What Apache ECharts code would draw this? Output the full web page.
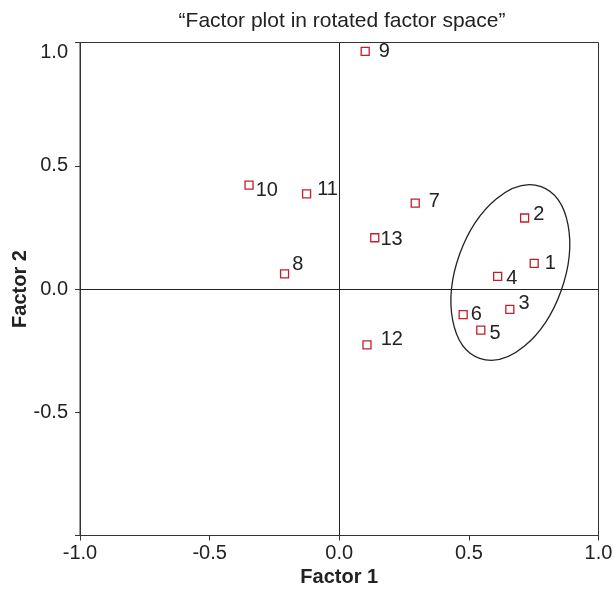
<!DOCTYPE html>
<html>
<head>
<meta charset="utf-8">
<script src="https://cdn.jsdelivr.net/npm/echarts@6/dist/echarts.min.js"></script>
<style>
html,body{margin:0;padding:0;background:#fff;}
#chart{width:613px;height:592px;}
</style>
</head>
<body>
<div id="chart"></div>
<script>
// ---- data ----
var pointNames = ['1','2','3','4','5','6','7','8','9','10','11','12','13'];
var factor1 = [0.752, 0.715, 0.658, 0.611, 0.546, 0.478, 0.293, -0.211, 0.100, -0.348, -0.126, 0.107, 0.137];
var factor2 = [0.104, 0.288, -0.083, 0.051, -0.167, -0.104, 0.348, 0.061, 0.964, 0.421, 0.386, -0.227, 0.208];
var xTicks = [-1.0, -0.5, 0.0, 0.5, 1.0];
var yTickLabels = [-0.5, 0.0, 0.5, 1.0];
// cluster ellipse: centre (data), semi-axes (data units), tilt in degrees (clockwise from vertical)
var ellipseCentre = [0.660, 0.067];
var ellipseSemiLong = 0.370;
var ellipseSemiShort = 0.208;
var ellipseTilt = 19.7;

// ---- style ----
var labelOffsets = [[6,0],[4,-4],[4,-6],[4,2],[4,3],[3,0],[9,-2],[3,-9],[9,0],[2,5],[6,-4],[9,-5],[1,2]];
var FONT = 'Liberation Sans, Arial, Helvetica, sans-serif';

var scatterData = pointNames.map(function(n, i){
  return {
    name: n,
    value: [factor1[i], factor2[i]],
    label: {offset: labelOffsets[i]}
  };
});

var chart = echarts.init(document.getElementById('chart'), null, {renderer:'canvas'});
chart.setOption({
  animation: false,
  backgroundColor: '#fff',
  title: {
    text: '\u201CFactor plot in rotated factor space\u201D',
    left: 337, top: 6, textAlign: 'center',
    textStyle: {fontFamily: FONT, fontSize: 21, fontWeight: 'normal', color: '#222'}
  },
  grid: {
    left: 80, right: 14.5, top: 42.5, bottom: 56.5,
    outerBoundsMode: 'none', containLabel: false,
    show: true, borderColor: '#333', borderWidth: 1, backgroundColor: 'transparent'
  },
  xAxis: {
    type: 'value', min: -1, max: 1, interval: 0.5,
    name: 'Factor 1', nameLocation: 'middle', nameGap: 32, nameMoveOverlap: false,
    nameTextStyle: {fontFamily: FONT, fontSize: 20, fontWeight: 'bold', color: '#222'},
    axisLine: {show: true, onZero: false, lineStyle: {color: '#333', width: 1}},
    axisTick: {show: true, length: 5, lineStyle: {color: '#333'}},
    splitLine: {show: false},
    axisLabel: {
      fontFamily: FONT, fontSize: 20, color: '#222', margin: 8,
      customValues: xTicks,
      formatter: function(v){ return v.toFixed(1); }
    }
  },
  yAxis: {
    type: 'value', min: -1, max: 1, interval: 0.5,
    name: 'Factor 2', nameLocation: 'middle', nameGap: 50, nameRotate: 90, nameMoveOverlap: false,
    nameTextStyle: {fontFamily: FONT, fontSize: 20, fontWeight: 'bold', color: '#222'},
    axisLine: {show: true, onZero: false, lineStyle: {color: '#333', width: 1}},
    axisTick: {show: true, length: 5, lineStyle: {color: '#333'}},
    splitLine: {show: false},
    axisLabel: {
      fontFamily: FONT, fontSize: 20, color: '#222', margin: 12,
      customValues: yTickLabels,
      verticalAlignMaxLabel: 'top',
      formatter: function(v){ return v.toFixed(1); }
    }
  },
  series: [
    {
      type: 'scatter',
      symbol: 'rect', symbolSize: 8,
      itemStyle: {color: '#fff', borderColor: '#c41e2a', borderWidth: 1.3, opacity: 1},
      label: {
        show: true, position: 'right', distance: 0,
        formatter: '{b}',
        fontFamily: FONT, fontSize: 20, color: '#222'
      },
      data: scatterData,
      z: 5,
      markLine: {
        silent: true, symbol: 'none', animation: false,
        label: {show: false},
        lineStyle: {color: '#222', type: 'solid', width: 1},
        data: [{xAxis: 0}, {yAxis: 0}]
      }
    },
    {
      type: 'custom',
      silent: true,
      clip: false,
      data: [ellipseCentre],
      z: 3,
      renderItem: function(params, api){
        var c = api.coord([api.value(0), api.value(1)]);
        var sz = api.size([1, 1]);
        return {
          type: 'ellipse',
          x: c[0], y: c[1],
          rotation: -ellipseTilt * Math.PI / 180,
          shape: {cx: 0, cy: 0, rx: ellipseSemiShort * sz[0], ry: ellipseSemiLong * sz[1]},
          style: {fill: null, stroke: '#222', lineWidth: 1.3}
        };
      }
    }
  ]
});
</script>
</body>
</html>
